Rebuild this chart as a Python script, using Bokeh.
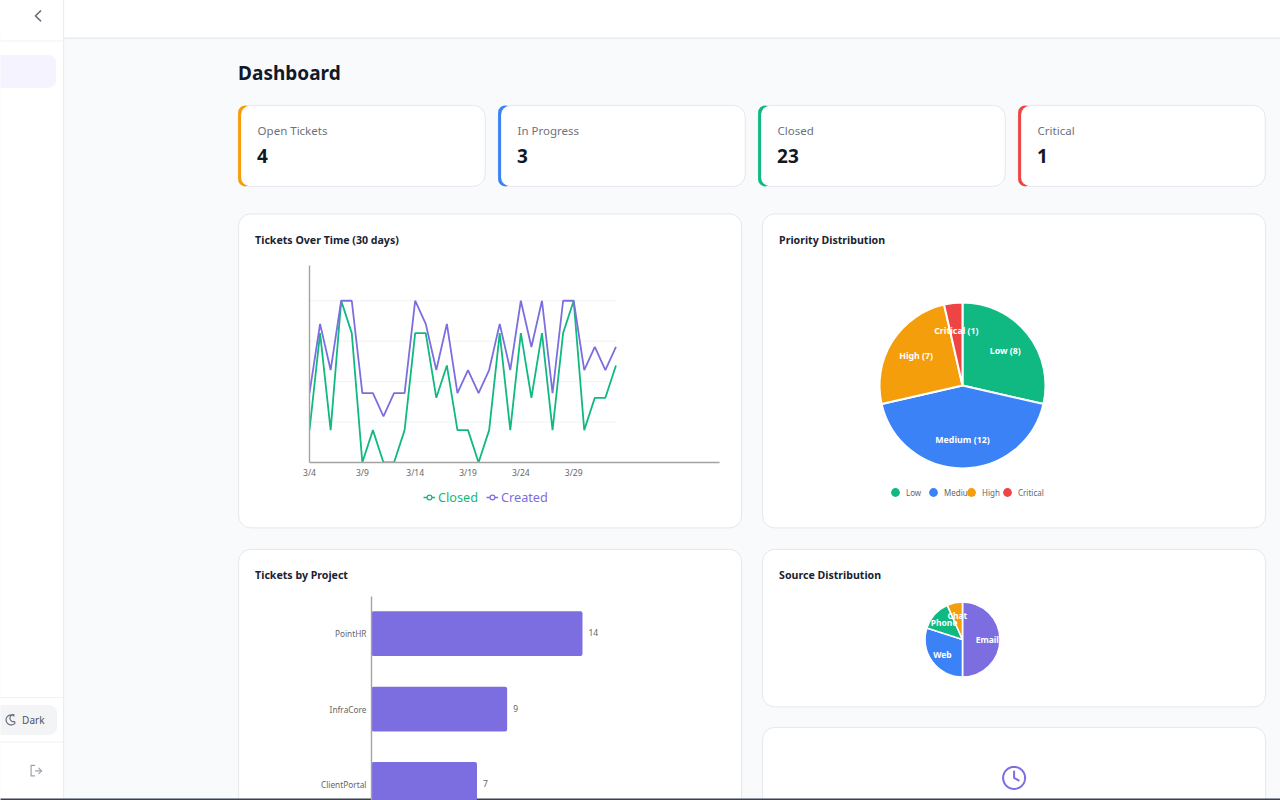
import numpy as np
from bokeh.core.properties import value
from bokeh.embed import file_html
from bokeh.models import (ColumnDataSource, FixedTicker, Legend, LegendItem, Range1d)
from bokeh.plotting import figure
from bokeh.resources import INLINE

# ---- data ----
stat_labels = ["Open Tickets", "In Progress", "Closed", "Critical"]
stat_values = ["4", "3", "23", "1"]
tick_days = [0, 5, 10, 15, 20, 25]
tick_labels = ["3/4", "3/9", "3/14", "3/19", "3/24", "3/29"]
closed = [1, 4, 1, 5, 4, 0, 1, 0, 0, 1, 4, 4, 2, 3, 1, 1, 0, 1, 4, 1, 4, 2, 4, 1, 4, 5, 1, 2, 2, 3]
created = [3, 6, 4, 7, 7, 3, 3, 2, 3, 3, 7, 6, 4, 6, 3, 4, 3, 4, 6, 4, 7, 5, 7, 3, 7, 7, 4, 5, 4, 5]
grid_values = [1.75, 3.5, 5.25, 7]
priority_labels = ["Low", "Medium", "High", "Critical"]
priority_values = [8, 12, 7, 1]
source_labels = ["Email", "Web", "Phone", "Chat"]
source_values = [15, 9, 4, 2]
project_names = ["PointHR", "InfraCore", "ClientPortal"]
project_values = [14, 9, 7]

GREEN, BLUE, ORANGE, RED, PURPLE = "#10b981", "#3b82f6", "#f59e0b", "#ef4444", "#7c6ee0"
FONT = "Noto Sans"
INK, MUTED, AXIS, SOFT = "#111827", "#6b7280", "#a3a3a3", "#666666"


def place(fig, left, top):
    fig.styles = {"position": "absolute", "left": f"{left}px", "top": f"{top}px"}
    return fig


def bare(width, height, x_range, y_range, **kw):
    f = figure(width=width, height=height, x_range=x_range, y_range=y_range, tools="",
               toolbar_location=None, output_backend="svg", **kw)
    f.background_fill_color = None
    f.border_fill_color = None
    f.outline_line_color = None
    f.grid.visible = False
    return f


# ---- page chrome: a figure whose scale is the page itself ----
bg = figure(width=1280, height=800, x_range=Range1d(0.4, 1280.4), y_range=Range1d(800.6, 0.6), tools="",
            toolbar_location=None, output_backend="svg", x_axis_type=None, y_axis_type=None,
            min_border=0)
bg.outline_line_color = None
bg.grid.visible = False
bg.background_fill_color = "#f8fafc"
bg.border_fill_color = "#f8fafc"


def box(l, t, r, b, fill, line=None, radius=0, lw=1):
    bg.quad(left=[l], right=[r], top=[t], bottom=[b], fill_color=fill, line_color=line,
            line_width=lw, border_radius=radius)


def label(x, y, s, size, color, bold=False, align="left"):
    bg.text(x=[x], y=[y], text=[s], text_font=value(FONT), text_font_size=f"{size}px", text_color=color,
            text_font_style="bold" if bold else "normal", text_baseline="middle", text_align=align)


def stroke(xs, ys, color, lw=1.5):
    bg.line(x=xs, y=ys, line_color=color, line_width=lw, line_cap="round", line_join="round")


box(0, 0, 1281, 38, "#ffffff")
box(0, 37.5, 1281, 39, "#e9ebef")
box(0, 0, 63, 801, "#ffffff")
box(63, 0, 64, 801, "#e9ebef")
box(0, 40.5, 63, 41.5, "#f1f2f4")
box(0, 697, 63, 698, "#f1f2f4")
box(0, 741.5, 63, 742.5, "#f1f2f4")
box(-20, 55, 56, 88, "#f5f3ff", radius=8)
box(-20, 705, 57, 735, "#f3f4f6", radius=8)
stroke([40.5, 35.3, 40.5], [11, 16, 21], "#6b7280")
label(22, 720.5, "Dark", 10, "#4b5563")

t = np.linspace(0.9, 5.6, 40)
mx = 11 + 5 * np.cos(t)
my = 720 - 5 * np.sin(t)
t2 = np.linspace(5.0, 1.5, 20)
stroke(list(mx) + list(13.5 + 3.6 * np.cos(t2)), list(my) + list(718.2 - 3.6 * np.sin(t2)), "#6b7280", 1.2)
stroke([34.5, 31, 31, 34.5], [765.5, 765.5, 776, 776], "#9ca3af", 1.2)
stroke([35.5, 41.5], [771, 771], "#9ca3af", 1.2)
stroke([38.7, 41.5, 38.7], [768.2, 771, 773.8], "#9ca3af", 1.2)

label(238, 73, "Dashboard", 19, INK, bold=True)

card_lefts = [238, 498, 758, 1018]
card_colors = [ORANGE, BLUE, GREEN, RED]
for left, col, lab, val in zip(card_lefts, card_colors, stat_labels, stat_values):
    box(left, 105.5, left + 247.2, 186.5, "#ffffff", "#e5e7eb", 12)
    box(left, 105.5, left + 14, 186.5, col, None, 12)
    box(left + 3, 106, left + 20, 186, "#ffffff", None, 11)
    label(left + 19.5, 131, lab, 11.5, MUTED)
    label(left + 19, 156.5, val, 19, INK, bold=True)

for l, t_, r, b in [(238.5, 214, 741.5, 528), (762.5, 214, 1265.5, 528), (238.5, 549.5, 741.5, 830),
                    (762.5, 549.5, 1265.5, 707), (762.5, 727.5, 1265.5, 830)]:
    box(l, t_, r, b, "#ffffff", "#e5e7eb", 12)

label(255, 240, "Tickets Over Time (30 days)", 10.6, "#1a2233", bold=True)
label(779, 240, "Priority Distribution", 10.6, "#1a2233", bold=True)
label(255, 575, "Tickets by Project", 10.6, "#1a2233", bold=True)
label(779, 575, "Source Distribution", 10.6, "#1a2233", bold=True)

a = np.linspace(0, 2 * np.pi, 80)
stroke(list(1014 + 11 * np.cos(a)), list(778 + 11 * np.sin(a)), PURPLE, 2)
stroke([1014, 1014, 1018.5], [771.5, 778, 780.5], PURPLE, 2)
box(0, 798.6, 1281, 801, "#374151")


# ---- legends live on the page figure, whose frame spans the whole window ----
# their key glyphs sit off the page (legend keys need one glyph to draw from)
def line_legend(name, color, x, y):
    ln = bg.line(x=[-50, -40], y=[-50, -50], line_color=color, line_width=1.5)
    dot = bg.scatter(x=[-50], y=[-50], marker="circle", fill_color="#ffffff", line_color=color, line_width=1.2)
    bg.add_layout(Legend(items=[LegendItem(label=name, renderers=[ln, dot])], location=(x, y),
                         background_fill_alpha=0, border_line_color=None, padding=0, margin=0, glyph_width=12,
                         glyph_height=14, label_standoff=3, label_text_color=color, label_text_font=FONT,
                         label_text_font_size="12.7px"), "center")


line_legend("Closed", GREEN, 423, 294)
line_legend("Created", PURPLE, 486, 294)

pie_colors = [GREEN, BLUE, ORANGE, RED]
for name, col, x in zip(priority_labels, pie_colors, [884, 922, 960, 996]):
    dot = bg.scatter(x=[-50], y=[-50], marker="circle", fill_color=col, line_color=None)
    bg.add_layout(Legend(items=[LegendItem(label=name, renderers=[dot])], location=(x, 297), background_fill_alpha=0,
                         border_line_color=None, padding=0, margin=0, glyph_width=22, glyph_height=22, label_standoff=-8,
                         label_text_color=SOFT, label_text_font=FONT, label_text_font_size="8px"), "center")

# ---- line chart ----
days = list(range(len(created)))
lc = bare(460, 260, Range1d(0, 38.8), Range1d(0, 8.525), min_border_left=40, min_border_top=10,
          min_border_bottom=53, min_border_right=10)
lc.extra_y_ranges = {"closed": Range1d(0, 6.09)}
lc.segment(x0=[days[0]] * len(grid_values), x1=[days[-1]] * len(grid_values), y0=grid_values, y1=grid_values,
           line_color="#f1f2f4", line_width=1)
lc.line(days, closed, line_color=GREEN, line_width=1.8, y_range_name="closed")
lc.line(days, created, line_color=PURPLE, line_width=1.8)
lc.xaxis.ticker = FixedTicker(ticks=tick_days)
lc.xaxis.major_label_overrides = dict(zip(tick_days, tick_labels))
lc.yaxis.ticker = FixedTicker(ticks=[])
for ax in (lc.xaxis[0], lc.yaxis[0]):
    ax.axis_line_color = AXIS
    ax.axis_line_width = 1.4
    ax.major_tick_line_color = None
    ax.minor_tick_line_color = None
    ax.major_tick_out = 0
    ax.major_tick_in = 0
lc.xaxis.major_label_text_font = FONT
lc.xaxis.major_label_text_font_size = "8.5px"
lc.xaxis.major_label_text_color = SOFT
lc.xaxis.major_label_standoff = 4


# ---- pies ----
def pie(values, colors, radius_px, half_px, texts, text_size, lw):
    fig = bare(2 * half_px, 2 * half_px, Range1d(-half_px / radius_px, half_px / radius_px),
               Range1d(-half_px / radius_px, half_px / radius_px), x_axis_type=None, y_axis_type=None,
               min_border=0)
    vals = np.array(values, dtype=float)
    edges = np.concatenate([[0], np.cumsum(vals)]) / vals.sum() * 2 * np.pi
    mids = (edges[:-1] + edges[1:]) / 2
    src = ColumnDataSource(dict(start=np.pi / 2 - edges[:-1], end=np.pi / 2 - edges[1:], color=colors,
                                tx=0.66 * np.sin(mids), ty=0.66 * np.cos(mids), label=texts))
    fig.wedge(x=0, y=0, radius=1, start_angle="start", end_angle="end", direction="clock", fill_color="color",
              line_color="#ffffff", line_width=lw, source=src)
    fig.text(x="tx", y="ty", text="label", text_color="#ffffff", text_font=value(FONT), text_font_style="bold",
             text_font_size=text_size, text_align="center", text_baseline="middle", source=src)
    return fig


p1 = pie(priority_values, pie_colors, 83, 100,
         [f"{n} ({v})" for n, v in zip(priority_labels, priority_values)], "8.8px", 2)
p2 = pie(source_values, [PURPLE, BLUE, GREEN, ORANGE], 37.5, 45, source_labels, "8.5px", 1.6)

# ---- bars ----
bc = bare(470, 204, Range1d(0, 358 / 15.07), Range1d(2.2133, -0.4933), min_border_left=110, min_border_top=0,
          min_border_bottom=0, min_border_right=2)
rows = list(range(len(project_names)))
bc.hbar(y=rows, right=project_values, left=0, height=0.593, fill_color=PURPLE, line_color=None, border_radius=2)
bc.text(x=project_values, y=rows, text=[str(v) for v in project_values], x_offset=6, y_offset=-1, text_baseline="middle",
        text_font=value(FONT), text_font_size="8.5px", text_color=SOFT)
bc.xaxis.visible = False
bc.yaxis.ticker = FixedTicker(ticks=rows)
bc.yaxis.major_label_overrides = dict(zip(rows, project_names))
bc.yaxis.axis_line_color = AXIS
bc.yaxis.axis_line_width = 1.4
bc.yaxis.major_tick_line_color = None
bc.yaxis.minor_tick_line_color = None
bc.yaxis.major_tick_out = 0
bc.yaxis.major_tick_in = 0
bc.yaxis.major_label_text_font = FONT
bc.yaxis.major_label_text_font_size = "8.3px"
bc.yaxis.major_label_text_color = SOFT
bc.yaxis.major_label_standoff = 5

place(bg, 0, 0)
place(lc, 269, 255)
place(p1, 861.5, 285)
place(p2, 916.5, 594)
place(bc, 261, 596)

open("out.html", "w").write(file_html([bg, lc, p1, p2, bc], INLINE))
